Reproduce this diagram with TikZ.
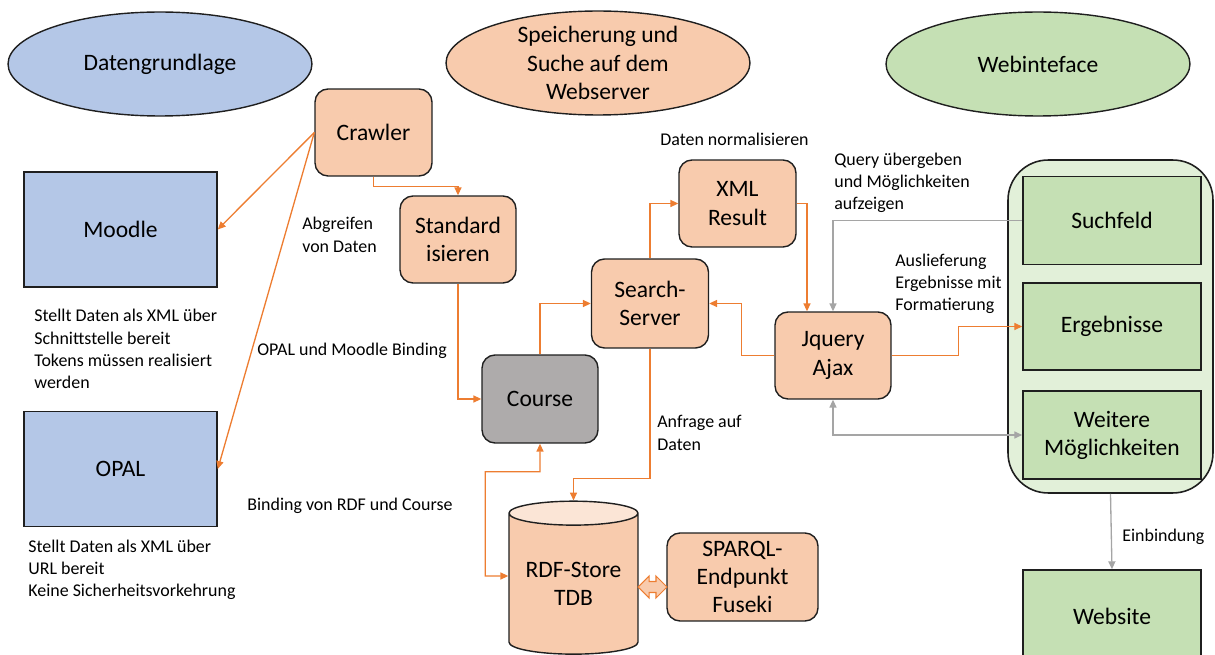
\documentclass[tikz,border=0pt]{standalone}
\usepackage{fontspec}
\setmainfont{Carlito}
\usepackage{tikz}
\usetikzlibrary{calc,arrows.meta,shapes.geometric,shapes.arrows}
\definecolor{blueFill}{HTML}{B4C7E7}
\definecolor{greenFill}{HTML}{C5E0B4}
\definecolor{paleGreen}{HTML}{E2F0D9}
\definecolor{orangeFill}{HTML}{F8CBAD}
\definecolor{topFill}{HTML}{FBE5D6}
\definecolor{courseGray}{HTML}{AEABAB}
\definecolor{arrowOrange}{HTML}{ED7D31}
\definecolor{lineGray}{HTML}{A5A5A5}
\definecolor{edge}{HTML}{1F1F1F}

\tikzset{
	bigtext/.style={font=\fontsize{13.4}{16}\selectfont, align=center, inner sep=0pt},
	smalltext/.style={font=\fontsize{10.2}{12.7}\selectfont, align=left, inner sep=0pt, anchor=west},
	topic/.style={ellipse, draw=edge, line width=0.8pt, bigtext, minimum width=6.08cm, minimum height=2.08cm},
	source/.style={rectangle, draw=edge, line width=0.9pt, fill=blueFill, bigtext, minimum width=3.86cm, minimum height=2.3cm},
	server/.style={rectangle, rounded corners=0.26cm, draw=edge, line width=0.8pt, fill=orangeFill, bigtext, minimum width=2.34cm, minimum height=1.74cm},
	web/.style={rectangle, draw=edge, line width=0.9pt, fill=greenFill, bigtext, minimum width=3.56cm, minimum height=1.76cm},
	oline/.style={draw=arrowOrange, line width=0.75pt, -{Triangle[length=4.5pt,width=4pt]}},
	gline/.style={draw=lineGray, line width=0.75pt, -{Triangle[length=4.5pt,width=4pt]}},
}

\begin{document}
\begin{tikzpicture}[x=0.02cm, y=-0.02cm]

% frame %{{{2

	\useasboundingbox (0,0) rectangle (1215,655);
	\clip (0,0) rectangle (1215,655);

% topics %{{{2

	\node[topic, fill=blueFill] (grundlage) at (160,64) {Datengrundlage};
	\node[topic, fill=orangeFill] (speicherung) at (598,63) {Speicherung und\\Suche auf dem\\Webserver};
	\node[topic, fill=greenFill] (webinterface) at (1038,64) {Webinteface};

% data sources %{{{2

	\node[source] (moodle) at (120.5,229.5) {Moodle};
	\node[source] (opal) at (120.5,469) {OPAL};

% server side %{{{2

	\node[server] (crawler) at (373.5,132.5) {Crawler};
	\node[server, minimum width=2.32cm] (standard) at (458,239.5) {Standard\\isieren};
	\node[server] (xml) at (737.5,203.5) {XML\\Result};
	\node[server, minimum height=1.78cm] (search) at (650,303.5) {Search-\\Server};
	\node[server, fill=courseGray, minimum width=2.32cm, minimum height=1.76cm] (course) at (540,399) {Course};
	\node[server, minimum width=2.32cm] (jquery) at (833,355.5) {Jquery\\Ajax};
	\node[server, minimum width=3.02cm, minimum height=1.76cm] (sparql) at (742.5,577) {SPARQL-\\Endpunkt\\Fuseki};

	\node[cylinder, shape border rotate=90, aspect=0.25, draw=edge, line width=0.8pt,
		cylinder uses custom fill, cylinder body fill=orangeFill, cylinder end fill=topFill,
		bigtext, minimum width=2.58cm, minimum height=3.06cm] (rdf) at (573.5,584) {RDF-Store\\TDB};

	\node[double arrow, draw=arrowOrange, fill=orangeFill, line width=0.6pt, inner sep=0.1cm,
		minimum height=0.58cm, minimum width=0.42cm, double arrow head extend=0.11cm] (link) at (652.5,587) {};

% web interface %{{{2

	\node[rectangle, rounded corners=0.8cm, draw=edge, line width=0.9pt, fill=paleGreen,
		minimum width=4.1cm, minimum height=6.66cm] (container) at (1110.5,326.5) {};
	\node[web] (suchfeld) at (1112,220.5) {Suchfeld};
	\node[web, minimum height=1.74cm] (ergebnisse) at (1112,326.5) {Ergebnisse};
	\node[web] (weitere) at (1112,435) {Weitere\\Möglichkeiten};
	\node[web, minimum height=1.84cm] (website) at (1112,616) {Website};

% connectors %{{{2

	\draw[oline] (crawler.west) -- (moodle.east);
	\draw[oline] (crawler.west) -- (opal.east);
	\draw[oline] (crawler.south) -- ++(0,10) -| (standard.north);
	\draw[oline] (standard.south) |- (course.west);
	\draw[oline] (course.north) |- (search.west);
	\draw[oline] (search.north) |- (xml.west);
	\draw[oline] (xml.east) -| ([xshift=-0.52cm]jquery.north);
	\draw[oline] (jquery.west) -- ++(-33,0) |- (search.east);
	\draw[oline] (search.south) -- ++(0,130) -| (rdf.north);
	\draw[oline, {Triangle[length=4.5pt,width=4pt]}-{Triangle[length=4.5pt,width=4pt]}]
		(course.south) -- ++(0,28) -| ($(rdf.west)+(-23,-8)$) -- ([yshift=0.16cm]rdf.west);
	\draw[oline] (jquery.east) -- ++(67,0) |- (ergebnisse.west);

	\draw[gline] (suchfeld.west) -| (jquery.north);
	\draw[gline, {Triangle[length=4.5pt,width=4pt]}-{Triangle[length=4.5pt,width=4pt]}]
		(jquery.south) |- (weitere.west);
	\draw[gline] (container.south) -- (website.north);

% texts %{{{2

	\node[smalltext] (abgreifen) at (302,235) {Abgreifen\\von Daten};
	\node[smalltext] (normal) at (660,139) {Daten normalisieren};
	\node[smalltext] (query) at (834,183) {Query übergeben\\und Möglichkeiten\\aufzeigen};
	\node[smalltext] (auslieferung) at (895,284) {Auslieferung\\Ergebnisse mit\\Formatierung};
	\node[smalltext] (moodletext) at (34,349) {Stellt Daten als XML über\\Schnittstelle bereit\\Tokens müssen realisiert\\werden};
	\node[smalltext] (binding) at (257,351) {OPAL und Moodle Binding};
	\node[smalltext] (rdfbinding) at (247,506) {Binding von RDF und Course};
	\node[smalltext] (opaltext) at (28,570) {Stellt Daten als XML über\\URL bereit\\Keine Sicherheitsvorkehrung};
	\node[smalltext] (anfrage) at (657,433) {Anfrage auf\\Daten};
	\node[smalltext] (einbindung) at (1122,537) {Einbindung};

\end{tikzpicture}
\end{document}
